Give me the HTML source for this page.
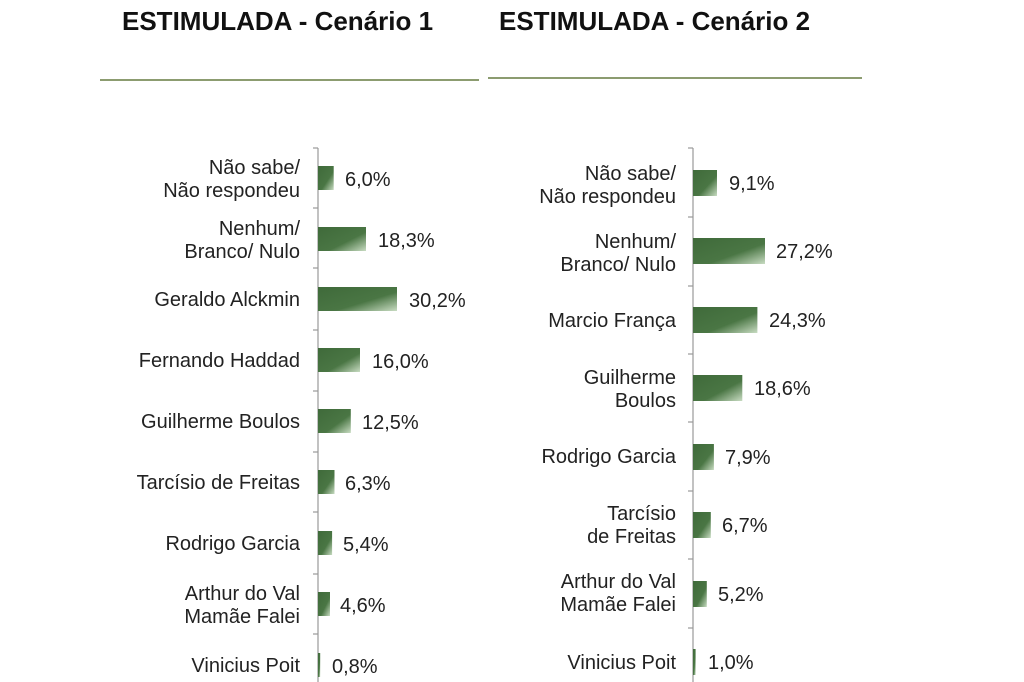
<!DOCTYPE html>
<html><head><meta charset="utf-8"><style>
html,body{margin:0;padding:0;background:#fff;}
svg{display:block;}
text{font-family:"Liberation Sans",Arial,sans-serif;fill:#222;}
</style></head><body>
<svg width="1024" height="682" viewBox="0 0 1024 682" xmlns="http://www.w3.org/2000/svg">
<defs>
<linearGradient id="g" x1="0" y1="0" x2="1" y2="1">
<stop offset="0" stop-color="#3f6a3a"/><stop offset="0.6" stop-color="#4a7644"/><stop offset="1" stop-color="#c8dcc2"/>
</linearGradient>
</defs>
<text x="122" y="30" font-size="26" font-weight="bold" style="fill:#111">ESTIMULADA - Cenário 1</text>
<text x="499" y="30" font-size="26" font-weight="bold" style="fill:#111">ESTIMULADA - Cenário 2</text>
<line x1="100" y1="80" x2="479" y2="80" stroke="#8c9c70" stroke-width="2"/>
<line x1="488" y1="78" x2="862" y2="78" stroke="#8c9c70" stroke-width="2"/>

<!-- chart 1 -->
<g stroke="#999" stroke-width="1.2">
<line x1="318" y1="148" x2="318" y2="682"/>
<line x1="313" y1="148" x2="318" y2="148"/><line x1="313" y1="208" x2="318" y2="208"/>
<line x1="313" y1="268" x2="318" y2="268"/><line x1="313" y1="330" x2="318" y2="330"/>
<line x1="313" y1="391" x2="318" y2="391"/><line x1="313" y1="452" x2="318" y2="452"/>
<line x1="313" y1="512" x2="318" y2="512"/><line x1="313" y1="574" x2="318" y2="574"/>
<line x1="313" y1="634" x2="318" y2="634"/>
</g>
<g fill="url(#g)">
<rect x="318" y="166" width="15.7" height="24"/>
<rect x="318" y="227" width="48" height="24"/>
<rect x="318" y="287" width="79" height="24"/>
<rect x="318" y="348" width="42" height="24"/>
<rect x="318" y="409" width="32.8" height="24"/>
<rect x="318" y="470" width="16.5" height="24"/>
<rect x="318" y="531" width="14.1" height="24"/>
<rect x="318" y="592" width="12" height="24"/>
<rect x="318" y="653" width="2.2" height="24"/>
</g>
<g font-size="20" text-anchor="end">
<text x="300" y="174">Não sabe/</text><text x="300" y="197">Não respondeu</text>
<text x="300" y="235">Nenhum/</text><text x="300" y="258">Branco/ Nulo</text>
<text x="300" y="306">Geraldo Alckmin</text>
<text x="300" y="367">Fernando Haddad</text>
<text x="300" y="428">Guilherme Boulos</text>
<text x="300" y="489">Tarcísio de Freitas</text>
<text x="300" y="550">Rodrigo Garcia</text>
<text x="300" y="600">Arthur do Val</text><text x="300" y="623">Mamãe Falei</text>
<text x="300" y="672">Vinicius Poit</text>
</g>
<g font-size="20">
<text x="345" y="186">6,0%</text>
<text x="378" y="247">18,3%</text>
<text x="409" y="307">30,2%</text>
<text x="372" y="368">16,0%</text>
<text x="362" y="429">12,5%</text>
<text x="345" y="490">6,3%</text>
<text x="343" y="551">5,4%</text>
<text x="340" y="612">4,6%</text>
<text x="332" y="673">0,8%</text>
</g>

<!-- chart 2 -->
<g stroke="#999" stroke-width="1.2">
<line x1="693" y1="148" x2="693" y2="682"/>
<line x1="688" y1="148" x2="693" y2="148"/><line x1="688" y1="217" x2="693" y2="217"/>
<line x1="688" y1="286" x2="693" y2="286"/><line x1="688" y1="354" x2="693" y2="354"/>
<line x1="688" y1="422" x2="693" y2="422"/><line x1="688" y1="491" x2="693" y2="491"/>
<line x1="688" y1="559" x2="693" y2="559"/><line x1="688" y1="628" x2="693" y2="628"/>
</g>
<g fill="url(#g)">
<rect x="693" y="170" width="24" height="26"/>
<rect x="693" y="238" width="72" height="26"/>
<rect x="693" y="307" width="64.4" height="26"/>
<rect x="693" y="375" width="49.3" height="26"/>
<rect x="693" y="444" width="20.9" height="26"/>
<rect x="693" y="512" width="17.8" height="26"/>
<rect x="693" y="581" width="13.8" height="26"/>
<rect x="693" y="649" width="2.6" height="26"/>
</g>
<g font-size="20" text-anchor="end">
<text x="676" y="180">Não sabe/</text><text x="676" y="203">Não respondeu</text>
<text x="676" y="248">Nenhum/</text><text x="676" y="271">Branco/ Nulo</text>
<text x="676" y="327">Marcio França</text>
<text x="676" y="384">Guilherme</text><text x="676" y="407">Boulos</text>
<text x="676" y="463">Rodrigo Garcia</text>
<text x="676" y="520">Tarcísio</text><text x="676" y="543">de Freitas</text>
<text x="676" y="588">Arthur do Val</text><text x="676" y="611">Mamãe Falei</text>
<text x="676" y="669">Vinicius Poit</text>
</g>
<g font-size="20">
<text x="729" y="190">9,1%</text>
<text x="776" y="258">27,2%</text>
<text x="769" y="327">24,3%</text>
<text x="754" y="395">18,6%</text>
<text x="725" y="464">7,9%</text>
<text x="722" y="532">6,7%</text>
<text x="718" y="601">5,2%</text>
<text x="708" y="669">1,0%</text>
</g>
</svg>
</body></html>
